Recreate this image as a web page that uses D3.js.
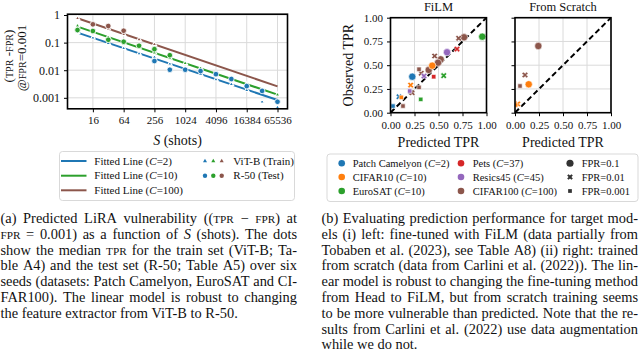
<!DOCTYPE html>
<html><head><meta charset="utf-8">
<script src="https://cdn.jsdelivr.net/npm/d3@7"></script>
<style>
body{margin:0;background:#fff;}
svg{display:block;}
text{font-family:"Liberation Serif","Times New Roman",serif;fill:#111;}
</style>
</head><body>
<svg id="c" width="640" height="353"></svg>
<script>
// ---------------- DATA: left panel (a) ----------------
const shots = [8,16,32,64,128,256,512,1024,2048,4096,8192,16384,32768,65536];
const shotTicks = [16,64,256,1024,4096,16384,65536];
const vulnTicks = [1,0.1,0.01,0.001];
const vulnTickLabels = ["1","0.1","0.01","0.001"];
const classCounts = [2,10,100];
const fitStart = [0.23,0.38,0.76];        // fitted line value at S=8
const fitEnd = [0.00083,0.0013,0.0026];   // fitted line value at S=65536
const vitTrainC2 = [0.24,0.15,0.095,0.062,0.04,0.03,0.017,0.011,0.0072,0.0046,0.0031,0.0019,0.00072,0.00045];
const vitTrainC10 = [0.41,0.25,0.16,0.1,0.066,0.043,0.028,0.018,0.012,0.0075,0.005,0.0031,0.002,0.0013];
const vitTrainC100 = [0.76,0.49,0.32,0.2,0.13,0.087];
const r50ShotsC2 = [256,512,1024,2048,4096,8192,16384,32768,65536];
const r50TestC2 = [0.0215,0.0104,0.0104,0.0093,0.0072,0.0048,0.00266,0.00178,0.00072];
const r50ShotsC10 = [8,16,32,64,128,256,512];
const r50TestC10 = [0.286,0.263,0.127,0.108,0.077,0.058,0.035];
const r50ShotsC100 = [16,32,64];
const r50TestC100 = [0.46,0.40,0.27];

// ---------------- DATA: right panels (b) ----------------
const datasets = ["Patch Camelyon","CIFAR10","EuroSAT","Pets","Resics45","CIFAR100"];
const datasetClasses = [2,10,10,37,45,100];
const fprLevels = ["0.1","0.01","0.001"];
const rateTicks = [0,0.25,0.5,0.75,1];
// FiLM: dataset index, fpr index, predicted TPR, observed TPR
const filmDataset   = [5,5,5,5,5,5,5,5,5,5,5, 0,0,0, 1,1,1, 2,2,2, 3,3, 4,4,4];
const filmFpr       = [0,0,0,0,1,1,1,1,2,2,2, 0,1,2, 0,1,2, 0,1,2, 1,2, 0,1,2];
const filmPredicted = [0.766,0.523,0.495,0.398,0.71,0.46,0.32,0.225,0.297,0.297,0.13, 0.227,0.089,0.026, 0.435,0.21,0.113, 0.956,0.554,0.315, 0.693,0.45, 0.589,0.349,0.2];
const filmObserved  = [0.794,0.562,0.526,0.45,0.783,0.597,0.415,0.21,0.457,0.267,0.07, 0.379,0.168,0.07, 0.495,0.29,0.162, 0.80,0.39,0.141, 0.67,0.379, 0.636,0.386,0.228];
// From scratch
const scratchDataset   = [5,5,5,1,1,1];
const scratchFpr       = [0,1,2,0,1,2];
const scratchPredicted = [0.243,0.104,0.052,0.143,0.028,0.007];
const scratchObserved  = [0.702,0.397,0.281,0.299,0.092,0.081];

const captionA = [
 "(a) Predicted LiRA vulnerability ((^TPR^ − ^FPR^) at",
 "^FPR^ = 0.001) as a function of *S* (shots). The dots",
 "show the median ^TPR^ for the train set (ViT-B; Ta-",
 "ble A4) and the test set (R-50; Table A5) over six",
 "seeds (datasets: Patch Camelyon, EuroSAT and CI-",
 "FAR100). The linear model is robust to changing",
 "the feature extractor from ViT-B to R-50."
];
const captionB = [
 "(b) Evaluating prediction performance for target mod-",
 "els (i) left: fine-tuned with FiLM (data partially from",
 "Tobaben et al. (2023), see Table A8) (ii) right: trained",
 "from scratch (data from Carlini et al. (2022)). The lin-",
 "ear model is robust to changing the fine-tuning method",
 "from Head to FiLM, but from scratch training seems",
 "to be more vulnerable than predicted. Note that the re-",
 "sults from Carlini et al. (2022) use data augmentation",
 "while we do not."
];

// ---------------- helpers ----------------
const svg = d3.select("#c");
const lineColors = ["#1f77b4","#2ca02c","#8c564b"];
const dsColors = ["#1f77b4","#ff7f0e","#2ca02c","#d62728","#9467bd","#8c564b"];
const GRID = "#dadada";

function rich(t, str, fs) {
  str.split(/(\^[^^]+\^|\*[^*]+\*)/).filter(s => s.length).forEach(s => {
    if (s[0] === "^") t.append("tspan").attr("font-size", fs * 0.78).text(s.slice(1, -1));
    else if (s[0] === "*") t.append("tspan").attr("font-style", "italic").text(s.slice(1, -1));
    else t.append("tspan").text(s);
  });
  return t;
}

function styleAxis(g, fs) {
  g.attr("font-family", null);
  g.select(".domain").remove();
  g.selectAll(".tick line").attr("stroke", "#000").attr("stroke-width", 1);
  g.selectAll(".tick text").attr("font-size", fs).attr("fill", "#111");
}

// ---------------- left panel ----------------
const L = {x0: 67.5, x1: 287.5, y0: 14.2, y1: 108.8};
const xS = d3.scaleLog().base(2).domain([2 ** 2.35, 2 ** 16.65]).range([L.x0, L.x1]);
const yV = d3.scaleLog().domain([0.0004, 1.07]).range([L.y1, L.y0]);

const gL = svg.append("g");
gL.append("defs").append("clipPath").attr("id", "clipL").append("rect")
  .attr("x", L.x0).attr("y", L.y0).attr("width", L.x1 - L.x0).attr("height", L.y1 - L.y0);
// grid
gL.selectAll(".gx").data(shotTicks).join("line")
  .attr("x1", d => xS(d)).attr("x2", d => xS(d)).attr("y1", L.y0).attr("y2", L.y1)
  .attr("stroke", GRID).attr("stroke-width", 1);
gL.selectAll(".gy").data(vulnTicks).join("line")
  .attr("y1", d => yV(d)).attr("y2", d => yV(d)).attr("x1", L.x0).attr("x2", L.x1)
  .attr("stroke", GRID).attr("stroke-width", 1);

const plotL = gL.append("g").attr("clip-path", "url(#clipL)");
const ln = d3.line().x(d => xS(d[0])).y(d => yV(d[1]));
classCounts.forEach((c, i) => {
  plotL.append("path").datum([[shots[0], fitStart[i]], [shots[shots.length - 1], fitEnd[i]]])
    .attr("d", ln).attr("stroke", lineColors[i]).attr("stroke-width", 2).attr("fill", "none");
});
const tri = d3.symbol(d3.symbolTriangle, 9);
const trainSets = [vitTrainC2, vitTrainC10, vitTrainC100];
trainSets.forEach((vals, i) => {
  plotL.selectAll(null).data(vals.map((v, k) => [shots[k], v])).join("path")
    .attr("d", tri).attr("transform", d => `translate(${xS(d[0])},${yV(d[1])})`)
    .attr("fill", lineColors[i]).attr("stroke", "#fff").attr("stroke-width", 1.1);
});
const testShots = [r50ShotsC2, r50ShotsC10, r50ShotsC100];
const testSets = [r50TestC2, r50TestC10, r50TestC100];
testSets.forEach((vals, i) => {
  plotL.selectAll(null).data(vals.map((v, k) => [testShots[i][k], v])).join("circle")
    .attr("cx", d => xS(d[0])).attr("cy", d => yV(d[1])).attr("r", 2.8)
    .attr("fill", lineColors[i]).attr("stroke", "#fff").attr("stroke-width", 0.8);
});
gL.append("rect").attr("x", L.x0).attr("y", L.y0).attr("width", L.x1 - L.x0).attr("height", L.y1 - L.y0)
  .attr("fill", "none").attr("stroke", "#000").attr("stroke-width", 1.6);
// axes
const axLX = gL.append("g").attr("transform", `translate(0,${L.y1})`)
  .call(d3.axisBottom(xS).tickValues(shotTicks).tickFormat(d3.format("d")).tickSize(3.5).tickPadding(4));
styleAxis(axLX, 11);
const axLY = gL.append("g").attr("transform", `translate(${L.x0},0)`)
  .call(d3.axisLeft(yV).tickValues(vulnTicks).tickFormat((d, i) => vulnTickLabels[i]).tickSize(3.5).tickPadding(4));
styleAxis(axLY, 12);
rich(gL.append("text").attr("x", (L.x0 + L.x1) / 2).attr("y", 145).attr("text-anchor", "middle").attr("font-size", 14),
  "*S* (shots)", 14);
rich(gL.append("text").attr("transform", "translate(12.5,56) rotate(-90)").attr("text-anchor", "middle").attr("font-size", 13),
  "(^TPR^ -^FPR^)", 13);
rich(gL.append("text").attr("transform", "translate(26,58) rotate(-90)").attr("text-anchor", "middle").attr("font-size", 13),
  "@^FPR^=0.001", 13);

// left legend
const lgL = svg.append("g");
lgL.append("rect").attr("x", 59.5).attr("y", 151.5).attr("width", 235).attr("height", 49).attr("rx", 3)
  .attr("fill", "#fff").attr("fill-opacity", 0.8).attr("stroke", "#cfcfcf").attr("stroke-width", 0.8);
const lgRows = [161, 175.7, 190.3];
classCounts.forEach((c, i) => {
  lgL.append("line").attr("x1", 61).attr("x2", 86.5).attr("y1", lgRows[i]).attr("y2", lgRows[i])
    .attr("stroke", lineColors[i]).attr("stroke-width", 2);
  rich(lgL.append("text").attr("x", 94.3).attr("y", lgRows[i] + 3.7).attr("font-size", 11),
    `Fitted Line (*C*=${c})`, 11);
});
const lgMx = [205, 213.3, 221.7];
lgMx.forEach((x, i) => {
  lgL.append("path").attr("d", d3.symbol(d3.symbolTriangle, 7)).attr("transform", `translate(${x},${lgRows[0]})`)
    .attr("fill", lineColors[i]);
  lgL.append("circle").attr("cx", x).attr("cy", lgRows[1]).attr("r", 2.2).attr("fill", lineColors[i]);
});
lgL.append("text").attr("x", 233.3).attr("y", lgRows[0] + 3.7).attr("font-size", 11).text("ViT-B (Train)");
lgL.append("text").attr("x", 233.3).attr("y", lgRows[1] + 3.7).attr("font-size", 11).text("R-50 (Test)");

// ---------------- right panels ----------------
const symbols = [
  () => d3.symbol(d3.symbolCircle, 42)(),
  () => d3.symbol(d3.symbolCross, 24)(),
  () => d3.symbol(d3.symbolSquare, 19)()
];
const rot = [0, 45, 0];
function panel(P, id, title, dsArr, fprArr, predArr, obsArr, showY) {
  const x = d3.scaleLinear().domain([0, 1]).range([P.x0, P.x1]);
  const y = d3.scaleLinear().domain([0, 1]).range([P.y1, P.y0]);
  const g = svg.append("g");
  g.append("defs").append("clipPath").attr("id", id).append("rect")
    .attr("x", P.x0).attr("y", P.y0).attr("width", P.x1 - P.x0).attr("height", P.y1 - P.y0);
  g.selectAll(null).data(rateTicks).join("line")
    .attr("x1", d => x(d)).attr("x2", d => x(d)).attr("y1", P.y0).attr("y2", P.y1)
    .attr("stroke", GRID).attr("stroke-width", 1);
  g.selectAll(null).data(rateTicks).join("line")
    .attr("y1", d => y(d)).attr("y2", d => y(d)).attr("x1", P.x0).attr("x2", P.x1)
    .attr("stroke", GRID).attr("stroke-width", 1);
  const pg = g.append("g").attr("clip-path", `url(#${id})`);
  pg.append("line").attr("x1", x(0)).attr("y1", y(0)).attr("x2", x(1)).attr("y2", y(1))
    .attr("stroke", "#000").attr("stroke-width", 2).attr("stroke-dasharray", "5.5,3.2");
  const idx = d3.range(dsArr.length);
  pg.selectAll(null).data(idx).join("path")
    .attr("d", i => symbols[fprArr[i]]())
    .attr("transform", i => `translate(${x(predArr[i])},${y(obsArr[i])}) rotate(${rot[fprArr[i]]})`)
    .attr("fill", i => dsColors[dsArr[i]]).attr("stroke", "#fff").attr("stroke-width", 0.6);
  g.append("rect").attr("x", P.x0).attr("y", P.y0).attr("width", P.x1 - P.x0).attr("height", P.y1 - P.y0)
    .attr("fill", "none").attr("stroke", "#000").attr("stroke-width", 1.6);
  const ax = g.append("g").attr("transform", `translate(0,${P.y1})`)
    .call(d3.axisBottom(x).tickValues(rateTicks).tickFormat(d3.format(".2f")).tickSize(3.5).tickPadding(5));
  styleAxis(ax, 11);
  const ay = g.append("g").attr("transform", `translate(${P.x0},0)`)
    .call(d3.axisLeft(y).tickValues(rateTicks).tickFormat(showY ? d3.format(".2f") : () => "").tickSize(3.5).tickPadding(4));
  styleAxis(ay, 11);
  g.append("text").attr("x", (P.x0 + P.x1) / 2).attr("y", 11).attr("text-anchor", "middle").attr("font-size", 12.5).text(title);
  g.append("text").attr("x", (P.x0 + P.x1) / 2).attr("y", 147.3).attr("text-anchor", "middle").attr("font-size", 14).text("Predicted TPR");
  if (showY) g.append("text").attr("transform", `translate(353,${(P.y0 + P.y1) / 2}) rotate(-90)`)
    .attr("text-anchor", "middle").attr("font-size", 14).text("Observed TPR");
}
panel({x0: 390.5, x1: 486.5, y0: 17.7, y1: 112.7}, "clipF", "FiLM",
  filmDataset, filmFpr, filmPredicted, filmObserved, true);
panel({x0: 515, x1: 611, y0: 17.7, y1: 112.7}, "clipS", "From Scratch",
  scratchDataset, scratchFpr, scratchPredicted, scratchObserved, false);

// right legend
const lgR = svg.append("g");
lgR.append("rect").attr("x", 327).attr("y", 154).attr("width", 311).attr("height", 47.5).attr("rx", 3)
  .attr("fill", "#fff").attr("fill-opacity", 0.8).attr("stroke", "#cfcfcf").attr("stroke-width", 0.8);
const rRows = [163.3, 177, 191];
const rCols = [[341.7, 352.7], [461, 472.7]];
datasets.forEach((d, i) => {
  const col = Math.floor(i / 3), row = i % 3;
  lgR.append("circle").attr("cx", rCols[col][0]).attr("cy", rRows[row]).attr("r", 3.3).attr("fill", dsColors[i]);
  rich(lgR.append("text").attr("x", rCols[col][1]).attr("y", rRows[row] + 3.6).attr("font-size", 10.5),
    `${d} (*C*=${datasetClasses[i]})`, 10.5);
});
fprLevels.forEach((f, i) => {
  lgR.append("path").attr("d", d3.symbol([d3.symbolCircle, d3.symbolCross, d3.symbolSquare][i], [40, 20, 14][i])())
    .attr("transform", `translate(570,${rRows[i]}) rotate(${rot[i]})`).attr("fill", "#333");
  lgR.append("text").attr("x", 581.7).attr("y", rRows[i] + 3.6).attr("font-size", 10.5).text(`FPR=${f}`);
});

// ---------------- captions ----------------
const CAP_FS = 14.4;
function caption(lines, x, y0, width) {
  const g = svg.append("g");
  lines.forEach((str, li) => {
    const y = y0 + li * 15.8;
    const justify = li < lines.length - 1;
    const words = str.split(" ");
    const nodes = words.map(w => rich(g.append("text").attr("y", y).attr("font-size", CAP_FS), w, CAP_FS));
    const widths = nodes.map(n => n.node().getComputedTextLength());
    const total = d3.sum(widths);
    const gap = justify ? (width - total) / (words.length - 1) : CAP_FS * 0.25;
    let cx = x;
    nodes.forEach((n, i) => { n.attr("x", cx); cx += widths[i] + gap; });
  });
}
caption(captionA, 0.5, 223, 296.5);
caption(captionB, 321.5, 223, 316.5);
</script>
</body></html>
